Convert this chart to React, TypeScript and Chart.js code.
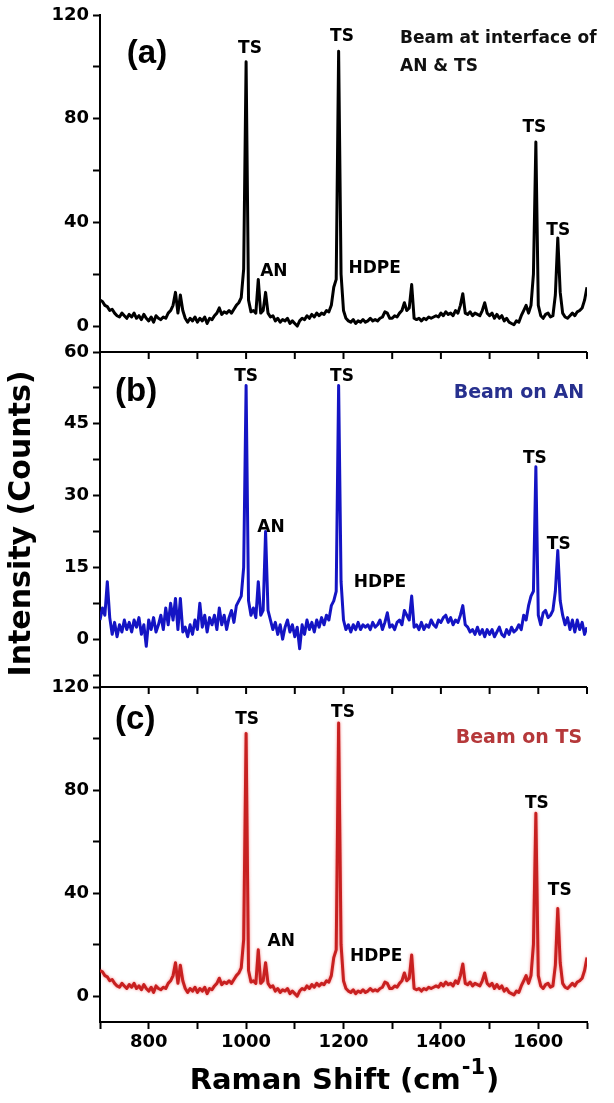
import React, { useEffect, useRef } from 'react';
import { Chart, registerables } from 'chart.js';

Chart.register(...registerables);

// Raman shift sampling grid (cm-1)
const ramanShift: number[] = [
  700, 705, 710, 715, 720, 725, 730, 735, 740, 745,
  750, 755, 760, 765, 770, 775, 780, 785, 790, 795,
  800, 805, 810, 815, 820, 825, 830, 835, 840, 845,
  850, 855, 860, 865, 870, 875, 880, 885, 890, 895,
  900, 905, 910, 915, 920, 925, 930, 935, 940, 945,
  950, 955, 960, 965, 970, 975, 980, 985, 990, 995,
  1000, 1005, 1010, 1015, 1020, 1025, 1030, 1035, 1040, 1045,
  1050, 1055, 1060, 1065, 1070, 1075, 1080, 1085, 1090, 1095,
  1100, 1105, 1110, 1115, 1120, 1125, 1130, 1135, 1140, 1145,
  1150, 1155, 1160, 1165, 1170, 1175, 1180, 1185, 1190, 1195,
  1200, 1205, 1210, 1215, 1220, 1225, 1230, 1235, 1240, 1245,
  1250, 1255, 1260, 1265, 1270, 1275, 1280, 1285, 1290, 1295,
  1300, 1305, 1310, 1315, 1320, 1325, 1330, 1335, 1340, 1345,
  1350, 1355, 1360, 1365, 1370, 1375, 1380, 1385, 1390, 1395,
  1400, 1405, 1410, 1415, 1420, 1425, 1430, 1435, 1440, 1445,
  1450, 1455, 1460, 1465, 1470, 1475, 1480, 1485, 1490, 1495,
  1500, 1505, 1510, 1515, 1520, 1525, 1530, 1535, 1540, 1545,
  1550, 1555, 1560, 1565, 1570, 1575, 1580, 1585, 1590, 1595,
  1600, 1605, 1610, 1615, 1620, 1625, 1630, 1635, 1640, 1645,
  1650, 1655, 1660, 1665, 1670, 1675, 1680, 1685, 1690, 1695,
  1700,
];

// (a) Beam at interface of AN & TS
const intensityA: number[] = [
  10, 9.5, 8, 7.5, 6, 6.5, 5, 4, 3.5, 5,
  4, 3, 4.5, 3.5, 5, 3, 4, 2.5, 4.5, 3,
  2, 3.5, 1.5, 4, 3, 2.5, 3.5, 3, 5, 6,
  8, 13, 5, 12, 6, 3, 1.5, 3, 2, 3.5,
  1.5, 3, 2, 3.5, 1, 3, 2.5, 4, 5, 7,
  4.5, 5.5, 5, 6, 5, 6.5, 8, 9, 11, 22,
  102, 10, 5.5, 6, 5, 18, 5, 6, 13, 5,
  3.5, 4, 2, 3, 1.5, 2.5, 2, 3, 1, 2,
  1, 0, 2, 3, 2.5, 4, 3, 4.5, 3.5, 5,
  4, 5, 4.5, 6, 5.5, 8, 15, 18, 106, 20,
  6, 3, 2, 1.5, 2.5, 1, 2, 1.5, 2.5, 1.5,
  2, 3, 2, 2.5, 2, 3, 3.5, 5.5, 5, 3,
  3, 4, 3.5, 5, 6, 9, 6, 7, 16, 3,
  2.5, 3, 2, 3, 2.5, 3.5, 3, 3.5, 4, 3.5,
  5, 4, 5.5, 4.5, 5, 4, 6, 5, 8, 12.5,
  5, 4.5, 5.5, 4, 5, 4.5, 4, 6, 9, 5,
  4, 5, 3, 4.5, 3, 4, 2, 3, 1.5, 1,
  0.5, 2, 1.5, 4, 6, 8, 5, 8, 20, 71,
  8, 4, 3, 4.5, 5, 3.5, 4, 12, 34, 13,
  5, 3.5, 3, 4, 5, 4, 5.5, 6, 7, 10,
  15,
];

// (b) Beam on AN
const intensityB: number[] = [
  4, 6.5, 5, 12, 4.5, 1, 3.5, 0.5, 3, 1.5,
  4, 2, 3.5, 1.5, 4, 2.5, 4.5, 1, 3, -1.5,
  4, 2, 4.5, 1.5, 3, 5, 2, 6.5, 3, 7.5,
  4, 8.5, 2, 8.5, 1.5, 2.5, 0.5, 3, 1, 4,
  2, 7.5, 2.5, 5, 1.5, 4.5, 3, 5, 2, 6.5,
  3, 5, 2, 4.5, 6, 3.5, 7, 8, 9, 15,
  53, 8, 5, 6.5, 4.5, 12, 5, 6, 22.5, 6,
  4, 2, 3.5, 1, 3, 0, 2.5, 4, 1.5, 3,
  0.5, 2.5, -2, 3, 1, 4, 2, 3.5, 1.5, 4,
  2.5, 4.5, 3, 5, 4, 7, 8, 10, 53, 12,
  4, 2, 3, 1.5, 3, 2, 3.5, 2, 3, 2.5,
  3, 2, 3.5, 2.5, 3, 4, 2, 3.5, 5.5, 2.5,
  3, 2, 3.5, 4, 3, 6, 5, 4, 9, 2.5,
  3, 2, 3.5, 2, 3, 2.5, 4, 3, 2.5, 4,
  3.5, 4.5, 5, 3.5, 4.5, 3, 4, 3.5, 5, 7,
  3, 2.5, 1.5, 2, 1, 2.5, 1, 2, 0.5, 2,
  1, 2, 0.5, 1.5, 2.5, 1, 0.5, 2, 1, 2.5,
  1.5, 2, 3, 2, 5, 4, 7, 9, 10, 36,
  5, 3, 5.5, 6, 4.5, 5, 6, 10, 18.5, 8,
  5, 3, 4.5, 2, 4, 1.5, 4, 2, 3.5, 1,
  2.5,
];

// (c) Beam on TS
const intensityC: number[] = [
  10, 9.5, 8, 7.5, 6, 6.5, 5, 4, 3.5, 5,
  4, 3, 4.5, 3.5, 5, 3, 4, 2.5, 4.5, 3,
  2, 3.5, 1.5, 4, 3, 2.5, 3.5, 3, 5, 6,
  8, 13, 5, 12, 6, 3, 1.5, 3, 2, 3.5,
  1.5, 3, 2, 3.5, 1, 3, 2.5, 4, 5, 7,
  4.5, 5.5, 5, 6, 5, 6.5, 8, 9, 11, 22,
  102, 10, 5.5, 6, 5, 18, 5, 6, 13, 5,
  3.5, 4, 2, 3, 1.5, 2.5, 2, 3, 1, 2,
  1, 0, 2, 3, 2.5, 4, 3, 4.5, 3.5, 5,
  4, 5, 4.5, 6, 5.5, 8, 15, 18, 106, 20,
  6, 3, 2, 1.5, 2.5, 1, 2, 1.5, 2.5, 1.5,
  2, 3, 2, 2.5, 2, 3, 3.5, 5.5, 5, 3,
  3, 4, 3.5, 5, 6, 9, 6, 7, 16, 3,
  2.5, 3, 2, 3, 2.5, 3.5, 3, 3.5, 4, 3.5,
  5, 4, 5.5, 4.5, 5, 4, 6, 5, 8, 12.5,
  5, 4.5, 5.5, 4, 5, 4.5, 4, 6, 9, 5,
  4, 5, 3, 4.5, 3, 4, 2, 3, 1.5, 1,
  0.5, 2, 1.5, 4, 6, 8, 5, 8, 20, 71,
  8, 4, 3, 4.5, 5, 3.5, 4, 12, 34, 13,
  5, 3.5, 3, 4, 5, 4, 5.5, 6, 7, 10,
  15,
];

const xTickLabels: number[] = [800, 1000, 1200, 1400, 1600];
const yTickLabelsA: number[] = [0, 40, 80, 120];
const yTickLabelsB: number[] = [0, 15, 30, 45, 60];
const yTickLabelsC: number[] = [0, 40, 80, 120];

// peak annotations: [axis, text, x (cm-1), y (counts)]
const peakNotes: [string, string, number, number][] = [
  ['yA', 'TS', 1008, 107],
  ['yA', 'AN', 1057, 21],
  ['yA', 'TS', 1197, 111.5],
  ['yA', 'HDPE', 1264, 22],
  ['yA', 'TS', 1592, 76.5],
  ['yA', 'TS', 1641, 36.7],
  ['yB', 'TS', 1000, 54.8],
  ['yB', 'AN', 1051, 23.4],
  ['yB', 'TS', 1197, 54.8],
  ['yB', 'HDPE', 1275, 11.9],
  ['yB', 'TS', 1593, 37.7],
  ['yB', 'TS', 1642, 19.8],
  ['yC', 'TS', 1002, 107.2],
  ['yC', 'AN', 1072, 21.3],
  ['yC', 'TS', 1199, 110],
  ['yC', 'HDPE', 1267, 15.4],
  ['yC', 'TS', 1597, 74.6],
  ['yC', 'TS', 1644, 41.1],
];

const FONT = '"DejaVu Sans", "Liberation Sans", Arial, sans-serif';

const glowPlugin = {
  id: 'glow',
  beforeDatasetDraw(chart: any, args: any) {
    if (args.index === 2) {
      chart.ctx.save();
      chart.ctx.shadowColor = 'rgba(235, 40, 40, 0.55)';
      chart.ctx.shadowBlur = 3;
    }
  },
  afterDatasetDraw(chart: any, args: any) {
    if (args.index === 2) chart.ctx.restore();
  },
};

const overlayPlugin = {
  id: 'overlay',
  afterDraw(chart: any) {
    const ctx: CanvasRenderingContext2D = chart.ctx;
    const area = chart.chartArea;
    const xs = chart.scales.x;
    const sc = chart.scales;
    ctx.save();

    // panel separators with inward ticks
    ctx.strokeStyle = '#000';
    ctx.lineWidth = 2;
    for (const id of ['yB', 'yC']) {
      const top = Math.round(sc[id].top);
      ctx.beginPath();
      ctx.moveTo(area.left - 1, top);
      ctx.lineTo(area.right, top);
      ctx.stroke();
      for (const t of xs.ticks) {
        const px = xs.getPixelForValue(t.value);
        ctx.beginPath();
        ctx.moveTo(px, top);
        ctx.lineTo(px, top + 7);
        ctx.stroke();
      }
    }

    // peak labels
    ctx.fillStyle = '#000';
    ctx.font = `bold 17px ${FONT}`;
    ctx.textAlign = 'center';
    ctx.textBaseline = 'middle';
    for (const [id, text, x, y] of peakNotes) {
      ctx.fillText(text, xs.getPixelForValue(x), sc[id].getPixelForValue(y));
    }

    // panel tags
    ctx.font = `bold 33px "Liberation Sans", Arial, sans-serif`;
    ctx.textAlign = 'left';
    ctx.fillText('(a)', xs.getPixelForValue(755), sc.yA.getPixelForValue(105));
    ctx.fillText('(b)', xs.getPixelForValue(731), sc.yB.getPixelForValue(51.7));
    ctx.fillText('(c)', xs.getPixelForValue(731), sc.yC.getPixelForValue(107.2));

    // panel descriptions
    ctx.font = `bold 17px ${FONT}`;
    ctx.textAlign = 'left';
    ctx.fillStyle = '#111';
    ctx.fillText('Beam at interface of', xs.getPixelForValue(1316), sc.yA.getPixelForValue(111));
    ctx.fillText('AN & TS', xs.getPixelForValue(1316), sc.yA.getPixelForValue(100));
    ctx.font = `bold 19px ${FONT}`;
    ctx.textAlign = 'right';
    ctx.fillStyle = '#27308e';
    ctx.fillText('Beam on AN', xs.getPixelForValue(1694), sc.yB.getPixelForValue(51.5));
    ctx.fillStyle = '#b5383a';
    ctx.fillText('Beam on TS', xs.getPixelForValue(1690), sc.yC.getPixelForValue(100.3));

    // y title
    ctx.fillStyle = '#000';
    ctx.save();
    ctx.translate(22, (area.top + area.bottom) / 2 + 5);
    ctx.rotate(-Math.PI / 2);
    ctx.font = `bold 30px ${FONT}`;
    ctx.textAlign = 'center';
    ctx.textBaseline = 'middle';
    ctx.fillText('Intensity (Counts)', 0, 0);
    ctx.restore();

    // x title with superscript
    const mainFont = `bold 29px ${FONT}`;
    const supFont = `bold 21px ${FONT}`;
    ctx.textAlign = 'left';
    ctx.textBaseline = 'alphabetic';
    ctx.font = mainFont;
    const p1 = 'Raman Shift (cm';
    const p3 = ')';
    const w1 = ctx.measureText(p1).width;
    const w3 = ctx.measureText(p3).width;
    ctx.font = supFont;
    const w2 = ctx.measureText('-1').width;
    const cx = (area.left + area.right) / 2;
    const base = 1089;
    let x0 = cx - (w1 + w2 + w3) / 2;
    ctx.font = mainFont;
    ctx.fillText(p1, x0, base);
    x0 += w1;
    ctx.font = supFont;
    ctx.fillText('-1', x0 + 1, base - 15);
    x0 += w2 + 2;
    ctx.font = mainFont;
    ctx.fillText(p3, x0, base);

    ctx.restore();
  },
};

function near(list: number[], v: number) {
  return list.some((l) => Math.abs(l - v) < 1e-6);
}

function yAxis(min: number, max: number, step: number, labels: number[], weight: number) {
  return {
    type: 'linear',
    position: 'left',
    stack: 'panels',
    stackWeight: weight,
    min,
    max,
    ticks: {
      stepSize: step,
      includeBounds: false,
      autoSkip: false,
      color: '#000',
      padding: 4,
      font: { family: FONT, size: 18, weight: 'bold' },
      callback: (v: number) => (near(labels, v) ? String(v) : ''),
    },
    grid: { drawOnChartArea: false, drawTicks: true, tickLength: 7, tickWidth: 2, tickColor: '#000' },
    border: { display: true, color: '#000', width: 2 },
    afterFit: (s: any) => {
      s.width = 100;
    },
  };
}

export default function App() {
  const ref = useRef<HTMLCanvasElement | null>(null);

  useEffect(() => {
    if (!ref.current) return;
    const mk = (vals: number[]) => ramanShift.map((x, i) => ({ x, y: vals[i] }));
    const chart = new Chart(ref.current, {
      type: 'line',
      data: {
        datasets: [
          { label: 'Beam at interface of AN & TS', data: mk(intensityA), yAxisID: 'yA', borderColor: '#000000', borderWidth: 3, pointRadius: 0, tension: 0, borderJoinStyle: 'round' },
          { label: 'Beam on AN', data: mk(intensityB), yAxisID: 'yB', borderColor: '#1414c4', borderWidth: 3, pointRadius: 0, tension: 0, borderJoinStyle: 'round' },
          { label: 'Beam on TS', data: mk(intensityC), yAxisID: 'yC', borderColor: '#c82020', borderWidth: 3, pointRadius: 0, tension: 0, borderJoinStyle: 'round' },
        ],
      } as any,
      options: {
        animation: false,
        responsive: false,
        maintainAspectRatio: false,
        events: [],
        layout: { padding: { top: 15, right: 27, left: 0, bottom: 0 } },
        plugins: { legend: { display: false }, tooltip: { enabled: false } },
        scales: {
          x: {
            type: 'linear',
            min: 700,
            max: 1700,
            ticks: {
              stepSize: 100,
              autoSkip: false,
              maxRotation: 0,
              color: '#000',
              padding: 3,
              font: { family: FONT, size: 18, weight: 'bold' },
              callback: (v: number) => (near(xTickLabels, v) ? String(v) : ''),
            },
            grid: { drawOnChartArea: false, tickLength: 7, tickWidth: 2, tickColor: '#000' },
            border: { display: true, color: '#000', width: 2 },
            afterFit: (s: any) => {
              s.height = 81;
            },
          },
          yC: yAxis(-10, 120, 20, yTickLabelsC, 335),
          yB: yAxis(-10, 60, 7.5, yTickLabelsB, 335),
          yA: yAxis(-10, 120, 20, yTickLabelsA, 337),
        } as any,
      },
      plugins: [glowPlugin, overlayPlugin],
    });
    return () => chart.destroy();
  }, []);

  return (
    <div style={{ position: 'absolute', left: 0, top: 0, width: 614, height: 1103, background: '#fff' }}>
      <canvas ref={ref} width={614} height={1103} style={{ display: 'block' }} />
    </div>
  );
}
